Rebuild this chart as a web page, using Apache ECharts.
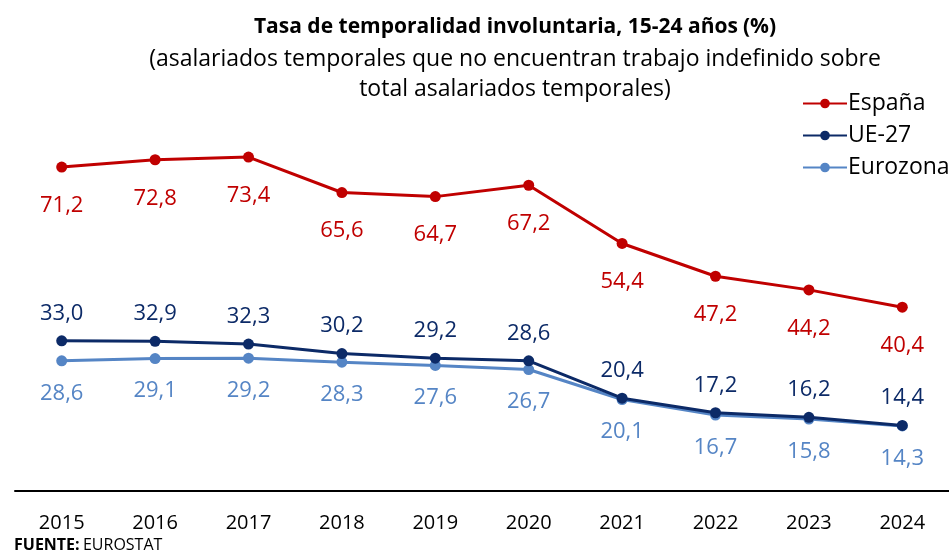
<!DOCTYPE html>
<html>
<head>
<meta charset="utf-8">
<script src="https://cdn.jsdelivr.net/npm/echarts@6/dist/echarts.min.js"></script>
<style>
  html, body { margin: 0; padding: 0; background: #fff; }
  #chart { width: 949px; height: 554px; }
</style>
</head>
<body>
<div id="chart"></div>
<script>
const years = ['2015', '2016', '2017', '2018', '2019', '2020', '2021', '2022', '2023', '2024']
const espana = [71.2, 72.8, 73.4, 65.6, 64.7, 67.2, 54.4, 47.2, 44.2, 40.4]
const ue27 = [33.0, 32.9, 32.3, 30.2, 29.2, 28.6, 20.4, 17.2, 16.2, 14.4]
const eurozona = [28.6, 29.1, 29.2, 28.3, 27.6, 26.7, 20.1, 16.7, 15.8, 14.3]

const FONT = 'Open Sans'
const fmt = p => p.value.toFixed(1).replace('.', ',')

function makeSeries(name, data, color, pos, dist, z) {
  return {
    name: name,
    type: 'line',
    data: data,
    z: z,
    symbol: 'circle',
    symbolSize: 11,
    lineStyle: { color: color, width: 3 },
    itemStyle: { color: color },
    label: {
      show: true,
      position: pos,
      distance: dist,
      formatter: fmt,
      color: color,
      fontFamily: FONT,
      fontSize: 22
    }
  }
}

const chart = echarts.init(document.getElementById('chart'))
const option = {
  animation: false,
  title: {
    left: 510,
    top: 12,
    textAlign: 'center',
    text: '{b|Tasa de temporalidad involuntaria, 15-24 años} {n|(%)}',
    textStyle: {
      rich: {
        b: { fontFamily: FONT, fontSize: 21, fontWeight: 'bold', color: '#000' },
        n: { fontFamily: FONT, fontSize: 21, color: '#000' }
      }
    },
    subtext: '(asalariados temporales que no encuentran trabajo indefinido sobre\ntotal asalariados temporales)',
    itemGap: 6,
    subtextStyle: { fontFamily: FONT, fontSize: 23, color: '#000', lineHeight: 30, align: 'center' }
  },
  legend: {
    orient: 'vertical',
    left: 797,
    top: 87,
    itemWidth: 44,
    itemHeight: 12,
    itemGap: 9,
    textStyle: { fontFamily: FONT, fontSize: 23, color: '#000', padding: [0, 0, 0, -4] },
    data: ['España', 'UE-27', 'Eurozona']
  },
  grid: { left: 15, right: 0, top: 127, bottom: 63 },
  xAxis: {
    type: 'category',
    data: years,
    boundaryGap: true,
    axisLine: { lineStyle: { color: '#000', width: 2 } },
    axisTick: { show: false },
    axisLabel: { color: '#000', fontFamily: FONT, fontSize: 20, margin: 22 }
  },
  yAxis: {
    type: 'value',
    min: 0,
    max: 80,
    show: false,
    splitLine: { show: false }
  },
  series: [
    makeSeries('España', espana, '#C00000', 'bottom', 22, 3),
    makeSeries('UE-27', ue27, '#0C2A67', 'top', 11, 2),
    makeSeries('Eurozona', eurozona, '#5585C5', 'bottom', 16, 1)
  ],
  graphic: [
    {
      type: 'text',
      left: 14,
      top: 537,
      style: {
        text: '{b|FUENTE:} {n|EUROSTAT}',
        rich: {
          b: { fontFamily: FONT, fontSize: 16, fontWeight: 'bold', fill: '#000' },
          n: { fontFamily: FONT, fontSize: 16, fill: '#000' }
        }
      }
    }
  ]
}
chart.setOption(option)
</script>
</body>
</html>
